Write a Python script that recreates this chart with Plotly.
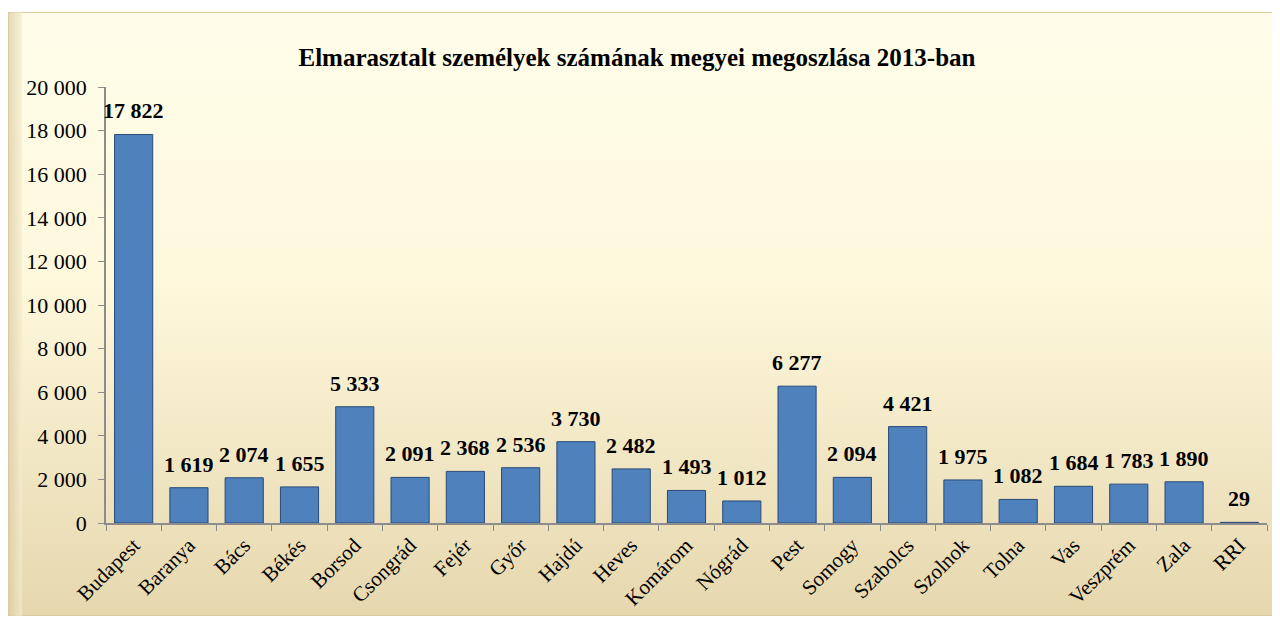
import plotly.graph_objects as go
import base64

categories = ["Budapest", "Baranya", "Bács", "Békés", "Borsod", "Csongrád", "Fejér", "Győr",
              "Hajdú", "Heves", "Komárom", "Nógrád", "Pest", "Somogy", "Szabolcs", "Szolnok",
              "Tolna", "Vas", "Veszprém", "Zala", "RRI"]
values = [17822, 1619, 2074, 1655, 5333, 2091, 2368, 2536, 3730, 2482, 1493, 1012,
          6277, 2094, 4421, 1975, 1082, 1684, 1783, 1890, 29]
y_ticks = [0, 2000, 4000, 6000, 8000, 10000, 12000, 14000, 16000, 18000, 20000]
title_text = "Elmarasztalt személyek számának megyei megoszlása 2013-ban"

SERIF = "Liberation Serif, Times New Roman, serif"
W, H = 1280, 623
L, T, PW, PH = 98, 79, 1161, 436
svg = f'''<svg xmlns="http://www.w3.org/2000/svg" width="1267" height="604" viewBox="0 0 1267 604">
<defs><linearGradient id="g" x1="0" y1="0" x2="0" y2="1">
<stop offset="0" stop-color="#FFFDEA"/><stop offset="0.45" stop-color="#FEF8DC"/>
<stop offset="1" stop-color="#E6D7AE"/></linearGradient>
<linearGradient id="e" x1="0" y1="0" x2="1" y2="0">
<stop offset="0" stop-color="#D8C9A0"/><stop offset="1" stop-color="#F5EDCF"/></linearGradient></defs>
<rect x="0" y="0" width="1267" height="604" fill="url(#g)" stroke="#DCCB9E" stroke-width="2"/>
<rect x="0" y="0" width="14" height="604" fill="url(#e)" opacity="0.7"/>
</svg>'''
src = "data:image/svg+xml;base64," + base64.b64encode(svg.encode()).decode()


def fmt(v):
    return f"{v:,}".replace(",", " ")


fig = go.Figure()
fig.add_trace(go.Bar(
    x=categories, y=values,
    width=0.69,
    marker=dict(color="#4F81BD", line=dict(color="#284A78", width=1)),
    cliponaxis=False,
))

annotations = [
    dict(x=c, y=v, xref="x", yref="y", text=f"<b>{fmt(v)}</b>", showarrow=False,
         yanchor="bottom", xanchor="center", yshift=9,
         font=dict(family=SERIF, size=22, color="black"))
    for c, v in zip(categories, values)
]

fig.update_layout(
    width=W, height=H,
    separators=". ",
    paper_bgcolor="white",
    plot_bgcolor="rgba(0,0,0,0)",
    margin=dict(l=L, r=W - L - PW, t=T, b=H - T - PH, autoexpand=False),
    showlegend=False,
    title=dict(text=f"<b>{title_text}</b>", x=(637 - 8) / W, xanchor="center", y=1 - 49 / H, yanchor="middle",
               font=dict(family=SERIF, size=25, color="black")),
    font=dict(family=SERIF, color="black"),
    annotations=annotations,
    images=[dict(source=src, xref="paper", yref="paper", x=(0 - L) / PW, y=1 + (T - 4) / PH,
                 sizex=1267 / PW, sizey=604 / PH, xanchor="left", yanchor="top",
                 sizing="stretch", layer="below")],
)
fig.update_xaxes(
    automargin=False,
    range=[-0.5, len(categories) - 0.5],
    tickangle=-45, tickfont=dict(family=SERIF, size=21, color="black"),
    showline=True, linecolor="#8C8C8C", linewidth=1.5,
    ticks="outside", ticklen=6, tickcolor="#8C8C8C", tickson="boundaries",
    showgrid=False,
)
fig.update_yaxes(
    automargin=False,
    range=[0, 20000], tickvals=y_ticks, tickformat=",",
    tickfont=dict(family=SERIF, size=22, color="black"),
    ticklabelstandoff=7,
    showline=True, linecolor="#8C8C8C", linewidth=1.5,
    ticks="outside", ticklen=6, tickcolor="#8C8C8C",
    showgrid=False, zeroline=False,
)
fig.write_html("out.html")
